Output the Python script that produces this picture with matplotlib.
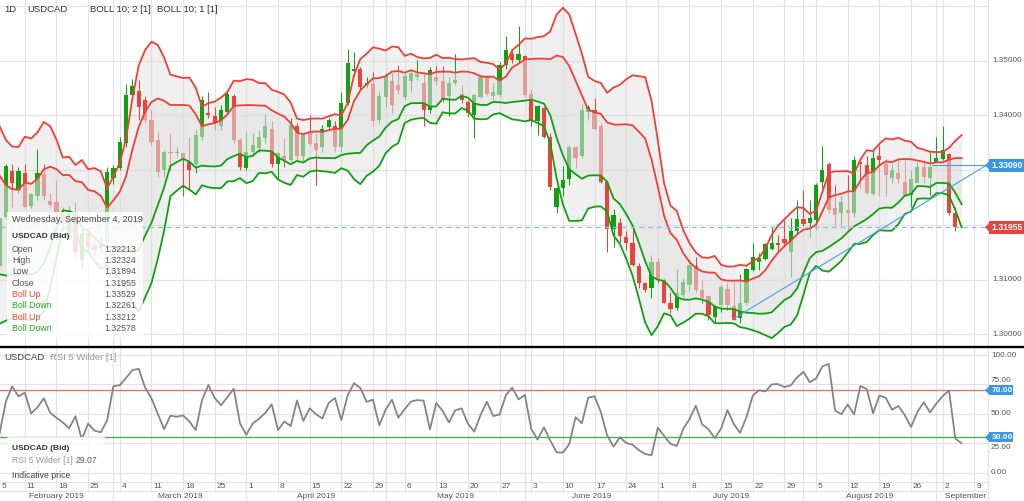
import numpy as np
import pandas as pd
import matplotlib
matplotlib.use("Agg")
import matplotlib.pyplot as plt
from matplotlib.lines import Line2D
from matplotlib.patches import Rectangle, Polygon
from matplotlib.transforms import blended_transform_factory, Bbox

plt.rcParams['font.family'] = ['Liberation Sans', 'DejaVu Sans']

# ---------------- data ----------------
start_date, end_date = '2019-02-05', '2019-09-04'
# closes before the visible window (Jan 21 - Feb 4), needed by the indicators
pre_close = [1.3270, 1.3312, 1.3336, 1.3280, 1.3232, 1.3248, 1.3184, 1.3136, 1.3080, 1.3080, 1.3112]

opens = [1.3124, 1.3215, 1.3298, 1.3261, 1.3295, 1.3234, 1.3252, 1.3293, 1.3244, 1.3241,
         1.3222, 1.3184, 1.3224, 1.3135, 1.3185, 1.3163, 1.3158, 1.3169, 1.3285, 1.3303,
         1.3349, 1.3437, 1.3445, 1.3428, 1.3392, 1.3355, 1.3300, 1.3332, 1.3331, 1.3331,
         1.3315, 1.3312, 1.3361, 1.3404, 1.3399, 1.3380, 1.3407, 1.3435, 1.3355, 1.3303,
         1.3334, 1.3340, 1.3358, 1.3376, 1.3312, 1.3326, 1.3318, 1.3381, 1.3325, 1.3368,
         1.3349, 1.3343, 1.3378, 1.3381, 1.3343, 1.3422, 1.3482, 1.3484, 1.3456, 1.3457,
         1.3391, 1.3434, 1.3462, 1.3456, 1.3434, 1.3462, 1.3470, 1.3459, 1.3410, 1.3471,
         1.3462, 1.3435, 1.3459, 1.3439, 1.3425, 1.3401, 1.3434, 1.3471, 1.3435, 1.3437,
         1.3492, 1.3513, 1.3501, 1.3509, 1.3439, 1.3389, 1.3413, 1.3361, 1.3233, 1.3267,
         1.3283, 1.3342, 1.3325, 1.3407, 1.3409, 1.3381, 1.3279, 1.3192, 1.3204, 1.3178,
         1.3166, 1.3125, 1.3093, 1.3084, 1.3133, 1.3099, 1.3057, 1.3048, 1.3072, 1.3090,
         1.3125, 1.3081, 1.3070, 1.3032, 1.3054, 1.3082, 1.3051, 1.3029, 1.3057, 1.3118,
         1.3133, 1.3137, 1.3155, 1.3167, 1.3174, 1.3151, 1.3188, 1.3210, 1.3203, 1.3209,
         1.3279, 1.3312, 1.3230, 1.3221, 1.3228, 1.3222, 1.3314, 1.3309, 1.3256, 1.3325,
         1.3312, 1.3285, 1.3295, 1.3279, 1.3255, 1.3277, 1.3306, 1.3285, 1.3314, 1.3320,
         1.3329, 1.32213]
highs = [1.3215, 1.3312, 1.3312, 1.3306, 1.3312, 1.3259, 1.3338, 1.3312, 1.3258, 1.3282,
         1.3232, 1.3235, 1.3241, 1.3195, 1.3195, 1.3170, 1.3182, 1.3306, 1.3310, 1.3361,
         1.3457, 1.3466, 1.3465, 1.3435, 1.3410, 1.3370, 1.3337, 1.3367, 1.3343, 1.3334,
         1.3361, 1.3373, 1.3435, 1.3443, 1.3416, 1.3419, 1.3446, 1.3439, 1.3358, 1.3370,
         1.3367, 1.3373, 1.3402, 1.3389, 1.3334, 1.3358, 1.3395, 1.3386, 1.3367, 1.3401,
         1.3367, 1.3383, 1.3396, 1.3389, 1.3443, 1.3521, 1.3515, 1.3489, 1.3470, 1.3480,
         1.3445, 1.3477, 1.3477, 1.3492, 1.3477, 1.3480, 1.3501, 1.3477, 1.3489, 1.3491,
         1.3491, 1.3470, 1.3512, 1.3456, 1.3428, 1.3439, 1.3474, 1.3474, 1.3459, 1.3497,
         1.3545, 1.3520, 1.3563, 1.3510, 1.3448, 1.3419, 1.3416, 1.3367, 1.3270, 1.3308,
         1.3346, 1.3344, 1.3421, 1.3419, 1.3431, 1.3386, 1.3282, 1.3229, 1.3212, 1.3188,
         1.3197, 1.3130, 1.3096, 1.3145, 1.3139, 1.3102, 1.3078, 1.3119, 1.3103, 1.3136,
         1.3142, 1.3099, 1.3072, 1.3054, 1.3090, 1.3093, 1.3096, 1.3111, 1.3121, 1.3167,
         1.3148, 1.3166, 1.3197, 1.3181, 1.3209, 1.3212, 1.3245, 1.3264, 1.3245, 1.3276,
         1.3344, 1.3315, 1.3273, 1.3252, 1.3291, 1.3326, 1.3315, 1.3325, 1.3337, 1.3346,
         1.3321, 1.3312, 1.3320, 1.3318, 1.3300, 1.3315, 1.3315, 1.3334, 1.3361, 1.3381,
         1.3332, 1.32324]
lows = [1.3121, 1.3212, 1.3233, 1.3258, 1.3230, 1.3230, 1.3245, 1.3245, 1.3233, 1.3209,
        1.3190, 1.3175, 1.3140, 1.3120, 1.3150, 1.3145, 1.3150, 1.3160, 1.3275, 1.3300,
        1.3343, 1.3430, 1.3392, 1.3386, 1.3346, 1.3288, 1.3288, 1.3300, 1.3325, 1.3252,
        1.3264, 1.3294, 1.3355, 1.3395, 1.3373, 1.3373, 1.3400, 1.3349, 1.3300, 1.3300,
        1.3325, 1.3334, 1.3349, 1.3306, 1.3285, 1.3306, 1.3315, 1.3318, 1.3315, 1.3344,
        1.3273, 1.3334, 1.3373, 1.3334, 1.3334, 1.3419, 1.3472, 1.3449, 1.3450, 1.3381,
        1.3386, 1.3416, 1.3405, 1.3440, 1.3428, 1.3443, 1.3465, 1.3380, 1.3405, 1.3455,
        1.3425, 1.3399, 1.3455, 1.3422, 1.3397, 1.3358, 1.3431, 1.3437, 1.3428, 1.3434,
        1.3484, 1.3495, 1.3495, 1.3433, 1.3381, 1.3364, 1.3358, 1.3263, 1.3222, 1.3252,
        1.3273, 1.3303, 1.3322, 1.3392, 1.3373, 1.3277, 1.3151, 1.3160, 1.3169, 1.3154,
        1.3124, 1.3084, 1.3078, 1.3066, 1.3093, 1.3057, 1.3038, 1.3045, 1.3066, 1.3081,
        1.3078, 1.3057, 1.3026, 1.3023, 1.3040, 1.3045, 1.3026, 1.3020, 1.3054, 1.3115,
        1.3117, 1.3136, 1.3154, 1.3148, 1.3160, 1.3105, 1.3184, 1.3197, 1.3178, 1.3191,
        1.3267, 1.3221, 1.3197, 1.3197, 1.3191, 1.3215, 1.3267, 1.3256, 1.3255, 1.3252,
        1.3252, 1.3276, 1.3276, 1.3252, 1.3233, 1.3276, 1.3276, 1.3255, 1.3314, 1.3318,
        1.3218, 1.31894]
closes = [1.3212, 1.3308, 1.3277, 1.3298, 1.3233, 1.3256, 1.3294, 1.3252, 1.3236, 1.3222,
          1.3205, 1.3228, 1.3150, 1.3185, 1.3160, 1.3154, 1.3175, 1.3297, 1.3303, 1.3352,
          1.3437, 1.3454, 1.3416, 1.3392, 1.3352, 1.3297, 1.3334, 1.3331, 1.3334, 1.3321,
          1.3301, 1.3364, 1.3428, 1.3401, 1.3386, 1.3410, 1.3440, 1.3355, 1.3306, 1.3334,
          1.3346, 1.3360, 1.3381, 1.3312, 1.3331, 1.3318, 1.3383, 1.3326, 1.3364, 1.3348,
          1.3337, 1.3376, 1.3391, 1.3343, 1.3422, 1.3495, 1.3484, 1.3452, 1.3460, 1.3389,
          1.3435, 1.3472, 1.3419, 1.3446, 1.3472, 1.3477, 1.3476, 1.3410, 1.3483, 1.3462,
          1.3428, 1.3460, 1.3465, 1.3428, 1.3404, 1.3437, 1.3471, 1.3440, 1.3443, 1.3492,
          1.3520, 1.3501, 1.3513, 1.3437, 1.3392, 1.3417, 1.3361, 1.3270, 1.3267, 1.3282,
          1.3343, 1.3323, 1.3410, 1.3416, 1.3376, 1.3279, 1.3192, 1.3218, 1.3180, 1.3167,
          1.3127, 1.3093, 1.3081, 1.3133, 1.3099, 1.3058, 1.3046, 1.3076, 1.3096, 1.3127,
          1.3081, 1.3066, 1.3035, 1.3051, 1.3087, 1.3054, 1.3027, 1.3057, 1.3119, 1.3141,
          1.3139, 1.3165, 1.3166, 1.3163, 1.3167, 1.3188, 1.3210, 1.3202, 1.3212, 1.3273,
          1.3300, 1.3227, 1.3218, 1.3241, 1.3222, 1.3318, 1.3312, 1.3258, 1.3323, 1.3318,
          1.3291, 1.3301, 1.3283, 1.3255, 1.3283, 1.3306, 1.3288, 1.3306, 1.3323, 1.3337,
          1.3221, 1.31955]

price_ticks = [1.35, 1.34, 1.31, 1.30]          # 1.33 and 1.32 sit behind the price tags
price_grid = [1.30, 1.31, 1.32, 1.33, 1.34, 1.35, 1.36]
rsi_ticks = [100, 75, 50, 25, 0]
rsi_levels = [70, 30]
trend_idx = [115.9, 156.2]
trend_price = [1.3028, 1.3311]
hline_level = 1.3309
hline_start_idx = 147.3
last_price = 1.31955
tooltip_rows = [("Open", "1.32213", "#555555"), ("High", "1.32324", "#555555"),
                ("Low", "1.31894", "#555555"), ("Close", "1.31955", "#555555"),
                ("Boll Up", "1.33529", "#f0483e"), ("Boll Down", "1.32261", "#22a822"),
                ("Boll Up", "1.33212", "#f0483e"), ("Boll Down", "1.32578", "#22a822")]
rsi_last_text = "29.07"

# ---------------- figure ----------------
W, H = 1024, 501
fig = plt.figure(figsize=(W / 100, H / 100), dpi=100)
fig.patch.set_facecolor('white')

def fx(px):
    return px / W

def fy(py):
    return 1 - py / H

PX0, PX1 = 0.079, 156.16   # index range of the plot width
ax = fig.add_axes([0, fy(346), fx(988), 346 / H])
ax2 = fig.add_axes([0, fy(482), fx(988), (482 - 348) / H])
for a in (ax, ax2):
    a.set_xlim(PX0, PX1)
    a.axis('off')
ax.set_ylim(1.29786, 1.36109)
ax2.set_ylim(-8.0, 106.0)

dates = pd.bdate_range(start_date, end_date)
ext = pd.bdate_range(start_date, '2019-09-13')
x = np.arange(len(dates))
o = np.array(opens); hh = np.array(highs); ll = np.array(lows); c = np.array(closes)

grid_c = '#e4e4e4'
mondays = np.where(ext.dayofweek == 0)[0]
month_starts = pd.date_range('2019-03-01', '2019-09-01', freq='MS')
seps = [int(np.searchsorted(ext.values, np.datetime64(m), side='right') - 1) for m in month_starts]
vgrid = sorted(set(list(mondays) + seps))
for a in (ax, ax2):
    for v in vgrid:
        a.axvline(v, color=grid_c, lw=0.9, zorder=0)
for p in price_grid:
    ax.axhline(p, color=grid_c, lw=0.9, zorder=0)
for r in rsi_ticks:
    ax2.axhline(r, color=grid_c, lw=0.9, zorder=0)

# ---------------- indicators ----------------
allc = np.array(pre_close + closes)
s = pd.Series(allc)
mid = s.rolling(10).mean().values
sd = s.rolling(10).std(ddof=0).values
n0 = len(pre_close)
k = np.arange(n0 - 1, len(allc))
xi = k - n0 + 1          # indicators are drawn one bar to the right, as in the original
u2 = mid[k] + 2 * sd[k]; l2 = mid[k] - 2 * sd[k]
u1 = mid[k] + sd[k]; l1 = mid[k] - sd[k]

N = 5
d = np.diff(allc)
gains = np.clip(d, 0, None); losses = np.clip(-d, 0, None)
rsi = np.full(len(allc), np.nan)
ag = gains[:N].mean(); al = losses[:N].mean()
rsi[N] = 100 - 100 / (1 + ag / al)
for j in range(N + 1, len(allc)):
    ag = (ag * (N - 1) + gains[j - 1]) / N
    al = (al * (N - 1) + losses[j - 1]) / N
    rsi[j] = 100.0 if al == 0 else 100 - 100 / (1 + ag / al)

# ---------------- main panel ----------------
green = '#13a013'; red = '#e8443a'
cols = np.where(c >= o, green, red)
ax.fill_between(xi, l2, u2, color='#d8d8d8', alpha=0.38, lw=0, zorder=1)
ax.vlines(x, ll, hh, colors=cols, lw=0.75, zorder=2)
body_lo = np.minimum(o, c)
body_h = np.maximum(np.abs(c - o), 0.00016)
ax.bar(x, body_h, bottom=body_lo, width=0.66, color=cols, lw=0, zorder=2)
ax.fill_between(xi, l1, u1, color='#e2e2e2', alpha=0.56, lw=0, zorder=3)
band_red = '#ee4038'; band_green = '#12a012'
ax.plot(xi, u2, color=band_red, lw=1.3, zorder=5)
ax.plot(xi, u1, color=band_red, lw=1.3, zorder=5)
ax.plot(xi, l1, color=band_green, lw=1.3, zorder=5)
ax.plot(xi, l2, color=band_green, lw=1.3, zorder=5)

ax.axhline(last_price, color='#8cc0ec', lw=0.9, ls=(0, (4, 3)), zorder=6)
ax.plot(trend_idx, trend_price, color='#4a9ee6', lw=0.8, zorder=6)
ax.plot([hline_start_idx, PX1], [hline_level, hline_level], color='#4a9ee6', lw=0.8, zorder=6)

# ---------------- RSI panel ----------------
ax2.axhline(rsi_levels[0], color='#f26a60', lw=0.9, zorder=2)
ax2.axhline(rsi_levels[1], color='#3fae3f', lw=0.9, zorder=2)
ax2.plot(xi, rsi[k], color='#858585', lw=1.3, zorder=3)

# ---------------- separators / label area ----------------
fig.add_artist(Line2D([0, 1], [fy(347), fy(347)], transform=fig.transFigure,
                      color='black', lw=1.7, zorder=5))
fig.add_artist(Line2D([fx(988), fx(988)], [fy(0), fy(501)], transform=fig.transFigure,
                      color=grid_c, lw=0.9, zorder=0))
fig.add_artist(Line2D([0, fx(988)], [fy(482), fy(482)], transform=fig.transFigure,
                      color=grid_c, lw=0.9, zorder=0))
fig.add_artist(Line2D([0, fx(988)], [fy(491), fy(491)], transform=fig.transFigure,
                      color=grid_c, lw=0.9, zorder=0))
bt = blended_transform_factory(ax2.transData, fig.transFigure)
for v in mondays:
    if v < PX1:
        fig.add_artist(Line2D([v, v], [fy(482), fy(491)], transform=bt, color=grid_c, lw=0.9, zorder=0))
for v in seps:
    fig.add_artist(Line2D([v, v], [fy(482), fy(501)], transform=bt, color=grid_c, lw=0.9, zorder=0))

clipbox = Bbox.from_extents(0, 0, 988, 501)
lab_c = '#555555'
day_idx = [0] + [m for m in mondays if m < PX1 - 1]
for v in day_idx:
    xx = max(v, PX0) + 0.3
    fig.text(xx, fy(487), str(ext[v].day), transform=bt, fontsize=6.0, color=lab_c,
             ha='left', va='center')
bounds = [PX0] + seps
names = [m.strftime('%B %Y') for m in pd.date_range('2019-02-01', '2019-09-01', freq='MS')]
for j, nm in enumerate(names):
    if j < len(names) - 1:
        cx = (bounds[j] + bounds[j + 1]) / 2
        fig.text(cx, fy(496), nm, transform=bt, fontsize=6.0, color=lab_c, ha='center', va='center')
    else:
        t = fig.text(seps[-1] + 1.4, fy(496), nm, transform=bt, fontsize=6.0, color=lab_c,
                     ha='left', va='center')
        t.set_clip_box(clipbox); t.set_clip_on(True)

# price axis labels
def py_price(p):
    return 60.7 + (1.35 - p) * 5472

def py_rsi(r):
    return 472.6 - r * 1.175

for p in price_ticks:
    fig.text(fx(992), fy(py_price(p)), f"{p:.5f}", fontsize=5.9, color=lab_c, ha='left', va='center')
for r in rsi_ticks:
    yy = py_rsi(r)
    if r == 75:
        yy -= 4
    if r == 25:
        yy += 4
    fig.text(fx(991), fy(yy), f"{r:.2f}", fontsize=5.9, color=lab_c, ha='left', va='center')

def tag(ypx, text, color, x0=989, x1=1024, hgt=13, fs=6.2):
    fig.add_artist(Rectangle((fx(x0), fy(ypx + hgt / 2)), fx(x1 - x0), hgt / H,
                             transform=fig.transFigure, facecolor=color, edgecolor='none', zorder=20))
    fig.add_artist(Polygon([(fx(x0 - 4), fy(ypx)), (fx(x0), fy(ypx - 4)), (fx(x0), fy(ypx + 4))],
                           closed=True, transform=fig.transFigure, facecolor=color,
                           edgecolor='none', zorder=20))
    fig.text(fx((x0 + x1) / 2 + 1), fy(ypx), text, fontsize=fs, color='white', fontweight='bold',
             ha='center', va='center', zorder=21)

tag(py_price(hline_level), f"{hline_level:.5f}", '#3b97e3')
tag(py_price(last_price), f"{last_price:.5f}", '#e8443a')
tag(py_rsi(rsi_levels[0]), f"{rsi_levels[0]:.2f}", '#3b97e3', x1=1013, hgt=10, fs=6.0)
tag(py_rsi(rsi_levels[1]), f"{rsi_levels[1]:.2f}", '#3b97e3', x1=1013, hgt=10, fs=6.0)

# header
hdr_c = '#333333'
fig.text(fx(4), fy(9), "1D", fontsize=6.8, color=hdr_c, va='center')
fig.text(fx(27), fy(9), "USDCAD", fontsize=6.8, color=hdr_c, va='center')
fig.text(fx(90), fy(9), "BOLL 10; 2 [1]", fontsize=6.8, color=hdr_c, va='center')
fig.text(fx(157), fy(9), "BOLL 10; 1 [1]", fontsize=6.8, color=hdr_c, va='center')

# tooltip box
fig.add_artist(Rectangle((fx(7), fy(338)), fx(136), 126 / H, transform=fig.transFigure,
                         facecolor='white', edgecolor='none', alpha=0.85, zorder=10))
fig.text(fx(12), fy(220), "Wednesday, September 4, 2019", fontsize=6.6, color='#444444',
         va='center', zorder=11)
fig.text(fx(12), fy(236.7), "USDCAD (Bid)", fontsize=6.0, color='#333333', fontweight='bold',
         va='center', zorder=11)
row_y = [249, 260.7, 272, 283.3, 294.3, 305.7, 317, 328.3]
for (lab, val, col), yy in zip(tooltip_rows, row_y):
    fig.text(fx(12), fy(yy), lab, fontsize=6.3, color=col, va='center', zorder=11)
    fig.text(fx(136), fy(yy), val, fontsize=6.3, color='#555555', ha='right', va='center', zorder=11)

# RSI header and info box
fig.text(fx(4), fy(358), "USDCAD", fontsize=6.8, color='#444444', va='center')
fig.text(fx(50), fy(358), "RSI 5 Wilder [1]", fontsize=6.8, color='#999999', va='center')
fig.add_artist(Rectangle((fx(7), fy(469)), fx(98), 32 / H, transform=fig.transFigure,
                         facecolor='white', edgecolor='none', alpha=0.85, zorder=10))
fig.text(fx(12), fy(448), "USDCAD (Bid)", fontsize=6.0, color='#333333', fontweight='bold',
         va='center', zorder=11)
fig.text(fx(12), fy(460.7), "RSI 5 Wilder [1]", fontsize=6.2, color='#999999', va='center', zorder=11)
fig.text(fx(97), fy(460.7), rsi_last_text, fontsize=6.2, color='#555555', ha='right',
         va='center', zorder=11)
fig.text(fx(12), fy(475), "Indicative price", fontsize=6.2, color='#444444', va='center', zorder=11)

fig.savefig('out.png', dpi=100, facecolor='white')
